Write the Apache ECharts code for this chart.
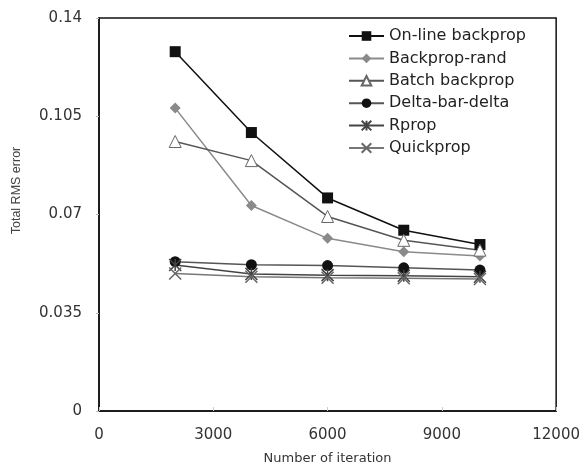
<!DOCTYPE html>
<html>
<head>
<meta charset="utf-8">
<script src="https://cdn.jsdelivr.net/npm/echarts@6/dist/echarts.min.js"></script>
<style>html,body{margin:0;padding:0;background:#fff}#c{width:583px;height:470px}</style>
</head>
<body>
<div id="c"></div>
<script>
var iterations = [2000, 4000, 6000, 8000, 10000];
var onlineBackprop = [0.1280, 0.0992, 0.0759, 0.0644, 0.0593];
var backpropRand = [0.1079, 0.0732, 0.0615, 0.0567, 0.0552];
var batchBackprop = [0.0960, 0.0892, 0.0693, 0.0608, 0.0573];
var deltaBarDelta = [0.0532, 0.0521, 0.0518, 0.0510, 0.0502];
var rprop = [0.0520, 0.0488, 0.0484, 0.0482, 0.0478];
var quickprop = [0.0490, 0.0478, 0.0475, 0.0473, 0.0470];
var seriesNames = ['On-line backprop', 'Backprop-rand', 'Batch backprop', 'Delta-bar-delta', 'Rprop', 'Quickprop'];
var xTicks = [0, 3000, 6000, 9000, 12000];
var yTicks = [0, 0.035, 0.07, 0.105, 0.14];

function pairs(vals) { return iterations.map(function (x, i) { return [x, vals[i]]; }); }

var styles = [
  { symbol: 'rect', size: 11, line: '#111', fill: '#111', border: '#111', bw: 0 },
  { symbol: 'diamond', size: 11, line: '#8a8a8a', fill: '#8a8a8a', border: '#8a8a8a', bw: 0 },
  { symbol: 'triangle', size: 12, line: '#555', fill: '#fff', border: '#666', bw: 1 },
  { symbol: 'circle', size: 11, line: '#555', fill: '#111', border: '#111', bw: 0 },
  { symbol: 'path://M0,0L10,10M10,0L0,10M5,0L5,10', size: 12, line: '#444', fill: 'rgba(0,0,0,0)', border: '#444', bw: 1.5 },
  { symbol: 'path://M0,0L10,10M10,0L0,10', size: 12, line: '#777', fill: 'rgba(0,0,0,0)', border: '#666', bw: 1.5 }
];
var dataSets = [onlineBackprop, backpropRand, batchBackprop, deltaBarDelta, rprop, quickprop];

var series = dataSets.map(function (d, i) {
  var s = styles[i];
  return {
    name: seriesNames[i], type: 'line', data: pairs(d),
    symbol: s.symbol, symbolSize: s.size, showAllSymbol: true,
    lineStyle: { color: s.line, width: 1.5 },
    itemStyle: { color: s.fill, borderColor: s.border, borderWidth: s.bw },
    emphasis: { disabled: true },
    animation: false
  };
});

var chart = echarts.init(document.getElementById('c'), null, { renderer: 'canvas' });
chart.setOption({
  animation: false,
  backgroundColor: '#fff',
  grid: { left: 99, right: 26, top: 18, bottom: 57, show: true, borderColor: '#111', borderWidth: 1.5, containLabel: false },
  legend: {
    left: 348, top: 28, orient: 'vertical', padding: 0,
    itemWidth: 35, itemHeight: 12, itemGap: 6.4,
    data: seriesNames,
    textStyle: { fontFamily: 'DejaVu Sans', fontSize: 16, color: '#222' }
  },
  xAxis: {
    type: 'value', min: xTicks[0], max: xTicks[xTicks.length - 1], interval: 3000,
    name: 'Number of iteration', nameLocation: 'middle', nameGap: 41,
    nameTextStyle: { fontFamily: 'DejaVu Sans', fontSize: 13, color: '#333' },
    axisLine: { lineStyle: { color: '#111', width: 1.5 } },
    axisTick: { inside: true, length: 4, lineStyle: { color: '#ccc' } },
    axisLabel: { margin: 17, fontFamily: 'DejaVu Sans', fontSize: 15, color: '#333', formatter: function (v) { return String(v); } },
    splitLine: { show: false }
  },
  yAxis: {
    type: 'value', min: yTicks[0], max: yTicks[yTicks.length - 1], interval: 0.035,
    name: 'Total RMS error', nameLocation: 'middle', nameGap: 76, nameRotate: 90,
    nameTextStyle: { fontFamily: 'Liberation Sans', fontSize: 12.5, color: '#444', padding: [0, 0, 0, 48] },
    axisLine: { lineStyle: { color: '#111', width: 1.5 } },
    axisTick: { inside: false, length: 3, lineStyle: { color: '#bbb' } },
    axisLabel: { margin: 17, fontFamily: 'DejaVu Sans', fontSize: 15, color: '#333' },
    splitLine: { show: false }
  },
  series: series
});
</script>
</body>
</html>
